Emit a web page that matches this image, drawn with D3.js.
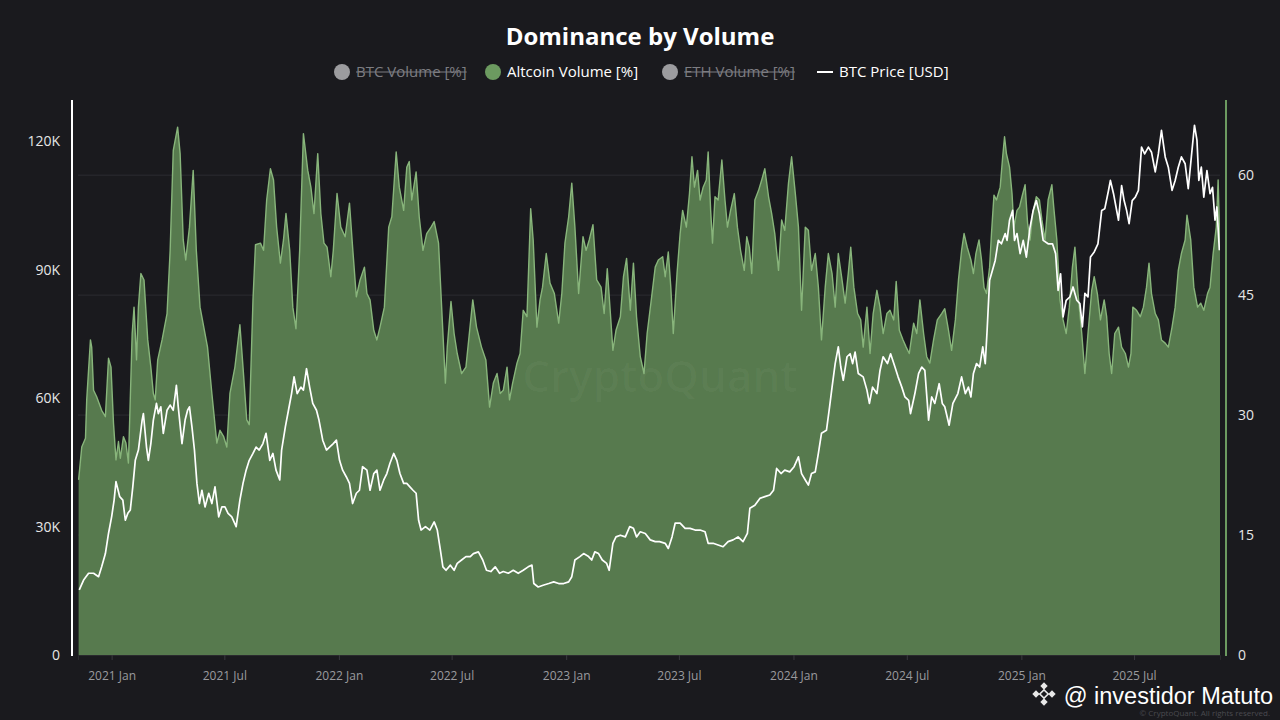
<!DOCTYPE html>
<html>
<head>
<meta charset="utf-8">
<script src="https://cdn.jsdelivr.net/npm/d3@7"></script>
<style>
  html, body { margin: 0; padding: 0; background: #1a1a1e; }
  svg { display: block; font-family: "Open Sans", "Noto Sans", sans-serif; }
</style>
</head>
<body>
<svg id="chart" width="1280" height="720"></svg>
<script>
// Altcoin volume dominance [%]
const altDates = [
  "2020-11-09","2020-11-14","2020-11-20","2020-11-22","2020-11-28","2020-11-30","2020-12-03","2020-12-08","2020-12-16","2020-12-22","2020-12-27","2020-12-31",
  "2021-01-04","2021-01-08","2021-01-12","2021-01-15","2021-01-20","2021-01-24","2021-01-28","2021-02-03","2021-02-06","2021-02-10","2021-02-13","2021-02-17",
  "2021-02-22","2021-02-28","2021-03-05","2021-03-09","2021-03-12","2021-03-16","2021-03-23","2021-03-31","2021-04-05","2021-04-10","2021-04-17","2021-04-21",
  "2021-04-26","2021-04-30","2021-05-06","2021-05-12","2021-05-17","2021-05-23","2021-05-29","2021-06-04","2021-06-11","2021-06-19","2021-06-24","2021-06-30",
  "2021-07-05","2021-07-10","2021-07-18","2021-07-26","2021-07-31","2021-08-06","2021-08-10","2021-08-16","2021-08-20","2021-08-28","2021-09-02","2021-09-07",
  "2021-09-13","2021-09-18","2021-09-23","2021-09-29","2021-10-04","2021-10-08","2021-10-14","2021-10-19","2021-10-24","2021-10-30","2021-11-05","2021-11-12",
  "2021-11-17","2021-11-22","2021-11-28","2021-12-03","2021-12-08","2021-12-13","2021-12-19","2021-12-23","2021-12-29","2022-01-04","2022-01-11","2022-01-18",
  "2022-01-23","2022-01-29","2022-02-04","2022-02-11","2022-02-15","2022-02-20","2022-02-26","2022-03-03","2022-03-08","2022-03-15","2022-03-22","2022-03-27",
  "2022-04-03","2022-04-08","2022-04-15","2022-04-20","2022-04-24","2022-04-28","2022-05-05","2022-05-10","2022-05-16","2022-05-22","2022-05-29","2022-06-03",
  "2022-06-10","2022-06-15","2022-06-21","2022-06-24","2022-06-30","2022-07-05","2022-07-10","2022-07-17","2022-07-24","2022-08-04","2022-08-10","2022-08-18",
  "2022-08-25","2022-08-31","2022-09-06","2022-09-12","2022-09-17","2022-09-22","2022-09-28","2022-10-02","2022-10-07","2022-10-14","2022-10-19","2022-10-24",
  "2022-10-30","2022-11-05","2022-11-09","2022-11-15","2022-11-20","2022-11-24","2022-11-30","2022-12-06","2022-12-13","2022-12-20","2022-12-25","2022-12-30",
  "2023-01-05","2023-01-10","2023-01-15","2023-01-21","2023-01-28","2023-02-02","2023-02-07","2023-02-13","2023-02-19","2023-02-26","2023-03-03","2023-03-08",
  "2023-03-13","2023-03-17","2023-03-22","2023-03-29","2023-04-03","2023-04-08","2023-04-14","2023-04-19","2023-04-24","2023-04-30","2023-05-06","2023-05-11",
  "2023-05-17","2023-05-24","2023-05-29","2023-06-05","2023-06-09","2023-06-14","2023-06-18","2023-06-22","2023-06-28","2023-07-03","2023-07-07","2023-07-13",
  "2023-07-18","2023-07-22","2023-07-26","2023-07-31","2023-08-04","2023-08-09","2023-08-14","2023-08-17","2023-08-21","2023-08-24","2023-08-28","2023-09-02",
  "2023-09-08","2023-09-13","2023-09-17","2023-09-22","2023-09-28","2023-10-03","2023-10-08","2023-10-14","2023-10-18","2023-10-22","2023-10-26","2023-10-31",
  "2023-11-06","2023-11-11","2023-11-16","2023-11-22","2023-11-27","2023-12-02","2023-12-08","2023-12-13","2023-12-18","2023-12-24","2023-12-29","2024-01-04",
  "2024-01-09","2024-01-14","2024-01-20","2024-01-25","2024-01-30","2024-02-05","2024-02-10","2024-02-15","2024-02-21","2024-02-26","2024-03-03","2024-03-08",
  "2024-03-13","2024-03-19","2024-03-24","2024-03-29","2024-04-02","2024-04-07","2024-04-13","2024-04-18","2024-04-22","2024-04-28","2024-05-03","2024-05-08",
  "2024-05-14","2024-05-19","2024-05-24","2024-05-30","2024-06-04","2024-06-10","2024-06-14","2024-06-19","2024-06-25","2024-06-30","2024-07-05","2024-07-12",
  "2024-07-17","2024-07-22","2024-07-28","2024-08-02","2024-08-07","2024-08-13","2024-08-19","2024-08-26","2024-08-31","2024-09-06","2024-09-11","2024-09-17",
  "2024-09-22","2024-09-27","2024-10-01","2024-10-06","2024-10-12","2024-10-16","2024-10-20","2024-10-25","2024-10-29","2024-11-02","2024-11-06","2024-11-11",
  "2024-11-14","2024-11-18","2024-11-22","2024-11-28","2024-12-02","2024-12-05","2024-12-08","2024-12-13","2024-12-17","2024-12-20","2024-12-25","2024-12-29",
  "2025-01-02","2025-01-07","2025-01-11","2025-01-15","2025-01-19","2025-01-25","2025-01-30","2025-02-03","2025-02-08","2025-02-13","2025-02-19","2025-02-22",
  "2025-02-27","2025-03-04","2025-03-09","2025-03-14","2025-03-19","2025-03-24","2025-03-28","2025-04-02","2025-04-08","2025-04-13","2025-04-18","2025-04-24",
  "2025-04-28","2025-05-03","2025-05-08","2025-05-14","2025-05-18","2025-05-22","2025-05-26","2025-05-31","2025-06-06","2025-06-11","2025-06-17","2025-06-22",
  "2025-06-26","2025-06-29","2025-07-05","2025-07-11","2025-07-16","2025-07-21","2025-07-25","2025-07-29","2025-08-04","2025-08-09","2025-08-14","2025-08-20",
  "2025-08-25","2025-08-31","2025-09-05","2025-09-10","2025-09-15","2025-09-21","2025-09-24","2025-09-30","2025-10-05","2025-10-11","2025-10-16","2025-10-21",
  "2025-10-27","2025-10-31","2025-11-05","2025-11-10","2025-11-13","2025-11-16"
];
const altValues = [
  21.9,26.0,27.1,31.9,39.4,38.5,33.1,32.3,30.6,29.8,37.1,36.0,
  29.0,24.4,26.7,24.6,27.3,26.5,24.0,40.2,43.5,36.9,43.5,47.7,
  46.9,39.4,36.0,32.7,31.9,36.9,39.4,42.7,50.6,63.1,66.0,62.7,
  51.9,49.4,53.5,60.6,50.6,43.5,41.0,38.5,32.7,26.5,28.1,27.3,
  26.0,32.7,36.0,41.3,36.0,29.4,28.8,44.4,51.3,51.5,50.6,56.9,
  60.8,59.4,53.5,49.0,51.9,55.2,50.6,43.5,40.8,50.6,65.2,60.6,
  58.5,55.2,62.7,55.2,51.5,51.0,47.3,50.6,57.7,53.5,52.3,56.5,
  51.0,44.8,46.9,48.5,45.2,44.4,40.6,39.4,41.0,43.5,53.5,54.8,
  62.9,58.5,55.6,61.0,61.7,56.9,60.4,54.8,50.6,52.7,53.5,54.2,
  51.5,43.5,34.0,38.5,44.2,40.2,37.7,35.2,36.0,44.4,41.0,38.5,
  36.9,31.0,34.0,35.2,32.7,33.1,36.0,31.9,34.0,36.5,37.7,43.1,
  42.3,55.8,51.9,41.0,44.4,46.0,50.2,46.5,45.2,41.5,45.2,51.5,
  54.8,59.0,53.5,45.2,52.3,50.6,51.9,53.8,46.9,46.0,42.7,48.3,
  42.7,38.1,40.6,42.3,47.3,49.6,43.1,49.0,42.3,37.3,35.2,40.2,
  44.0,48.5,49.4,49.8,47.3,50.4,46.0,40.2,47.7,52.7,55.6,53.5,
  57.7,62.3,58.5,60.6,56.9,58.5,59.4,62.9,55.6,51.5,57.3,56.9,
  61.9,56.9,53.5,55.6,57.7,53.5,50.6,48.1,52.3,51.0,47.7,56.9,
  58.1,59.4,60.8,57.3,55.2,52.7,48.1,54.4,53.1,59.0,62.3,57.7,
  53.5,43.1,53.5,53.1,48.1,50.2,46.0,39.4,46.0,50.2,47.7,43.5,
  50.2,46.9,44.0,47.7,51.0,46.0,42.7,41.9,38.5,43.5,37.7,42.7,
  45.6,43.5,40.2,42.7,43.1,41.9,46.7,40.6,39.4,38.5,37.7,41.5,
  40.2,44.4,40.2,37.3,36.5,39.4,41.9,42.7,43.3,40.6,38.1,41.9,
  46.9,50.6,52.7,51.0,49.4,47.7,50.2,51.9,49.4,46.0,45.2,48.5,
  52.7,57.5,56.9,58.5,62.3,64.8,62.7,61.0,57.7,53.5,55.6,56.0,
  57.3,58.8,54.0,51.9,55.2,57.3,56.9,54.4,51.9,56.9,58.8,56.0,
  51.9,44.4,41.9,40.2,43.5,48.5,51.0,45.2,40.2,35.2,40.2,45.6,
  47.3,45.2,41.9,44.4,42.3,37.7,35.2,40.2,41.0,38.5,37.7,36.0,
  37.7,43.5,43.1,42.3,43.5,46.0,49.0,45.2,42.7,41.9,39.4,39.0,
  38.5,41.0,43.5,48.1,50.2,51.9,55.0,51.9,46.0,43.5,44.0,43.1,
  45.2,46.0,50.2,53.5,59.4,50.6
];

// BTC price [USD]
const priceDates = [
  "2020-11-10","2020-11-17","2020-11-25","2020-12-03","2020-12-11","2020-12-16","2020-12-22","2020-12-27","2021-01-01","2021-01-05","2021-01-08","2021-01-14",
  "2021-01-19","2021-01-23","2021-01-27","2021-01-31","2021-02-04","2021-02-08","2021-02-13","2021-02-19","2021-02-21","2021-02-26","2021-03-01","2021-03-05",
  "2021-03-09","2021-03-14","2021-03-17","2021-03-21","2021-03-25","2021-03-31","2021-04-05","2021-04-10","2021-04-15","2021-04-18","2021-04-24","2021-04-29",
  "2021-05-03","2021-05-06","2021-05-10","2021-05-14","2021-05-18","2021-05-22","2021-05-26","2021-05-31","2021-06-06","2021-06-11","2021-06-16","2021-06-22",
  "2021-06-27","2021-07-02","2021-07-07","2021-07-13","2021-07-20","2021-07-26","2021-07-31","2021-08-05","2021-08-10","2021-08-16","2021-08-21","2021-08-26",
  "2021-09-01","2021-09-06","2021-09-12","2021-09-17","2021-09-22","2021-09-28","2021-10-01","2021-10-07","2021-10-12","2021-10-17","2021-10-21","2021-10-26",
  "2021-11-01","2021-11-05","2021-11-10","2021-11-15","2021-11-20","2021-11-26","2021-11-30","2021-12-06","2021-12-12","2021-12-17","2021-12-23","2021-12-28",
  "2022-01-02","2022-01-07","2022-01-13","2022-01-18","2022-01-23","2022-01-29","2022-02-03","2022-02-08","2022-02-15","2022-02-20","2022-02-26","2022-03-03",
  "2022-03-08","2022-03-14","2022-03-19","2022-03-24","2022-03-30","2022-04-04","2022-04-09","2022-04-15","2022-04-20","2022-04-25","2022-04-30","2022-05-05",
  "2022-05-09","2022-05-13","2022-05-20","2022-05-27","2022-06-03","2022-06-08","2022-06-13","2022-06-17","2022-06-22","2022-06-29","2022-07-05","2022-07-10",
  "2022-07-17","2022-07-24","2022-07-31","2022-08-05","2022-08-13","2022-08-20","2022-08-26","2022-09-02","2022-09-09","2022-09-16","2022-09-22","2022-09-30",
  "2022-10-08","2022-10-16","2022-10-24","2022-11-01","2022-11-07","2022-11-10","2022-11-17","2022-11-25","2022-12-04","2022-12-12","2022-12-20","2022-12-28",
  "2023-01-05","2023-01-10","2023-01-15","2023-01-23","2023-01-29","2023-02-06","2023-02-11","2023-02-16","2023-02-22","2023-02-28","2023-03-07","2023-03-11",
  "2023-03-17","2023-03-22","2023-03-29","2023-04-06","2023-04-13","2023-04-19","2023-04-24","2023-04-30","2023-05-08","2023-05-16","2023-05-24","2023-05-31",
  "2023-06-09","2023-06-14","2023-06-20","2023-06-25","2023-07-03","2023-07-11","2023-07-19","2023-07-27","2023-08-04","2023-08-12","2023-08-17","2023-08-25",
  "2023-09-02","2023-09-10","2023-09-18","2023-09-26","2023-10-04","2023-10-12","2023-10-19","2023-10-23","2023-10-31","2023-11-08","2023-11-16","2023-11-24",
  "2023-11-30","2023-12-05","2023-12-12","2023-12-18","2023-12-26","2024-01-02","2024-01-09","2024-01-14","2024-01-20","2024-01-25","2024-01-30","2024-02-05",
  "2024-02-10","2024-02-15","2024-02-23","2024-02-28","2024-03-03","2024-03-08","2024-03-13","2024-03-17","2024-03-21","2024-03-27","2024-04-01","2024-04-05",
  "2024-04-09","2024-04-14","2024-04-22","2024-04-28","2024-05-02","2024-05-07","2024-05-14","2024-05-19","2024-05-24","2024-05-31","2024-06-05","2024-06-12",
  "2024-06-17","2024-06-23","2024-06-28","2024-07-04","2024-07-07","2024-07-14","2024-07-20","2024-07-25","2024-07-30","2024-08-05","2024-08-10","2024-08-15",
  "2024-08-22","2024-08-27","2024-08-31","2024-09-07","2024-09-13","2024-09-21","2024-09-27","2024-10-03","2024-10-08","2024-10-12","2024-10-16","2024-10-21",
  "2024-10-26","2024-10-31","2024-11-04","2024-11-07","2024-11-11","2024-11-14","2024-11-20","2024-11-25","2024-11-30","2024-12-06","2024-12-09","2024-12-13",
  "2024-12-18","2024-12-21","2024-12-25","2024-12-30","2025-01-04","2025-01-09","2025-01-15","2025-01-20","2025-01-25","2025-01-30","2025-02-05","2025-02-13",
  "2025-02-20","2025-02-25","2025-03-01","2025-03-05","2025-03-09","2025-03-14","2025-03-20","2025-03-25","2025-03-31","2025-04-05","2025-04-09","2025-04-13",
  "2025-04-18","2025-04-22","2025-04-28","2025-05-04","2025-05-10","2025-05-15","2025-05-21","2025-05-24","2025-05-29","2025-06-02","2025-06-06","2025-06-11",
  "2025-06-15","2025-06-19","2025-06-23","2025-06-28","2025-07-03","2025-07-08","2025-07-13","2025-07-18","2025-07-24","2025-07-29","2025-08-04","2025-08-09",
  "2025-08-14","2025-08-20","2025-08-25","2025-08-31","2025-09-05","2025-09-10","2025-09-15","2025-09-21","2025-09-26","2025-10-01","2025-10-06","2025-10-10",
  "2025-10-13","2025-10-17","2025-10-21","2025-10-26","2025-10-31","2025-11-04","2025-11-08","2025-11-11","2025-11-15"
];
const priceValues = [
  15200,17500,19100,19100,18300,20600,23700,28400,32300,36200,40500,37000,
  36200,31500,33100,33900,39300,45500,47900,54900,56400,48600,45500,49400,
  54900,58800,56400,58000,51800,57200,58400,57200,63000,58000,49400,54900,
  57200,58000,53300,47900,40100,35400,38500,34600,37800,35400,39300,32300,
  34600,34600,33100,32300,30000,36200,40100,43200,45500,47100,48600,47900,
  49400,51800,45500,47100,43200,40900,47900,53300,57200,61100,65000,61100,
  62600,61900,66900,62600,58800,57200,54900,50200,47900,48600,49400,50200,
  45500,43200,41600,40100,35400,37800,38500,44000,43200,38500,42400,43200,
  38500,40900,42400,44800,47100,45500,42400,40100,40100,39300,38500,37800,
  31500,29200,30000,29200,31100,29200,24500,20600,19800,21000,19800,21400,
  22200,23000,23000,23700,24100,22200,19800,19500,20600,19100,19500,19100,
  19800,19100,19800,20600,21000,16700,15900,16300,16700,17100,16700,16700,
  17100,18300,22200,23000,23700,23000,22200,24100,23700,22200,21400,19800,
  26100,27600,28000,27600,30000,29600,27600,28800,28400,26900,26500,26500,
  26100,24900,27600,30800,30800,29600,29600,29200,29200,28800,26100,26100,
  25700,25300,26500,26900,27600,26500,28400,34300,35000,36600,37000,37400,
  38500,43600,42400,43200,42800,44000,46300,42400,40900,39700,42400,42800,
  47100,51800,52500,58000,62600,68100,72000,67300,64200,69700,70400,68100,
  70800,65800,65000,61900,58800,62600,61100,66500,69700,68100,70400,67300,
  65000,62600,60300,59500,56400,61100,65800,67300,66500,54900,60300,58800,
  63400,58800,58000,53700,58800,61100,65000,61100,62600,60300,65800,68100,
  67300,72000,68100,75900,87600,89100,92200,96900,96100,98500,96900,101600,
  103900,96900,98500,93800,96900,93000,100000,103900,106200,103100,96900,96100,
  96100,93800,85200,89100,79000,82900,83700,86000,82900,82100,76700,84500,
  83700,93000,94200,96100,103900,104300,108600,110900,107800,104700,101600,109700,
  106200,103900,100800,106200,107000,108600,118700,117100,118700,117500,112900,117100,
  122600,116400,114000,108600,110900,114000,116400,114800,109000,116400,123800,120300,
  110900,114000,107000,113200,107800,109300,101600,104700,94600
];

const priceTicks = [0, 30000, 60000, 90000, 120000];
const altTicks = [0, 15, 30, 45, 60];
const legendLabels = ["BTC Volume [%]", "Altcoin Volume [%]", "ETH Volume [%]", "BTC Price [USD]"];
const legendHidden = [true, false, true, false];

const parse = d3.timeParse("%Y-%m-%d");
const alt = altDates.map((d, i) => ({ date: parse(d), v: altValues[i] }));
const price = priceDates.map((d, i) => ({ date: parse(d), v: priceValues[i] }));

const svg = d3.select("#chart");
const plot = { left: 78, right: 1220, top: 100, bottom: 655 };

const x = d3.scaleTime()
  .domain([parse("2020-11-08"), parse("2025-11-16")])
  .range([plot.left, plot.right]);
const yAlt = d3.scaleLinear().domain([0, 69.4]).range([plot.bottom, plot.top]);
const yPrice = d3.scaleLinear().domain([0, 129700]).range([plot.bottom, plot.top]);

// background
svg.append("rect").attr("width", 1280).attr("height", 720).attr("fill", "#1a1a1e");

// title
svg.append("text")
  .attr("x", 640).attr("y", 45)
  .attr("text-anchor", "middle")
  .attr("fill", "#ffffff")
  .attr("font-size", 24)
  .attr("font-weight", 700)
  .text("Dominance by Volume");

// legend
const legendX = [334, 485, 662, 817];
const legend = svg.append("g").attr("transform", "translate(0,72)");
legendLabels.forEach((label, i) => {
  const g = legend.append("g").attr("transform", `translate(${legendX[i]},0)`);
  if (i === 3) {
    g.append("line").attr("x1", 0).attr("x2", 16).attr("y1", 0).attr("y2", 0)
      .attr("stroke", "#ffffff").attr("stroke-width", 2);
  } else {
    g.append("circle").attr("cx", 8).attr("cy", 0).attr("r", 8)
      .attr("fill", legendHidden[i] ? "#9c9c9f" : "#6c9a60");
  }
  const tx = 22;
  const t = g.append("text")
    .attr("x", tx).attr("y", 5)
    .attr("font-size", 15)
    .attr("fill", legendHidden[i] ? "#7d7d82" : "#ffffff")
    .text(label);
  if (legendHidden[i]) {
    const w = t.node().getComputedTextLength();
    g.append("line").attr("x1", tx).attr("x2", tx + w).attr("y1", 0).attr("y2", 0)
      .attr("stroke", "#7d7d82").attr("stroke-width", 1.2);
  }
});

// grid lines at the right-axis ticks
svg.append("g")
  .selectAll("line")
  .data(altTicks.filter(d => d > 0))
  .join("line")
  .attr("x1", plot.left).attr("x2", plot.right)
  .attr("y1", d => yAlt(d)).attr("y2", d => yAlt(d))
  .attr("stroke", "#2c2c31").attr("stroke-width", 1);

// clip to plot
svg.append("clipPath").attr("id", "clip")
  .append("rect")
  .attr("x", plot.left).attr("y", plot.top - 10)
  .attr("width", plot.right - plot.left).attr("height", plot.bottom - plot.top + 10);

const body = svg.append("g").attr("clip-path", "url(#clip)");

// altcoin volume area
body.append("path")
  .datum(alt)
  .attr("fill", "#577a4e")
  .attr("d", d3.area().x(d => x(d.date)).y0(plot.bottom).y1(d => yAlt(d.v)));

body.append("path")
  .datum(alt)
  .attr("fill", "none")
  .attr("stroke", "#88b57b")
  .attr("stroke-width", 1.4)
  .attr("stroke-linejoin", "round")
  .attr("d", d3.line().x(d => x(d.date)).y(d => yAlt(d.v)));

// faint watermark
body.append("text")
  .attr("x", 660).attr("y", 392)
  .attr("text-anchor", "middle")
  .attr("font-size", 44)
  .attr("font-weight", 600)
  .attr("fill", "rgba(255,255,255,0.03)")
  .text("CryptoQuant");

// BTC price line
body.append("path")
  .datum(price)
  .attr("fill", "none")
  .attr("stroke", "#ffffff")
  .attr("stroke-width", 1.7)
  .attr("stroke-linejoin", "round")
  .attr("d", d3.line().x(d => x(d.date)).y(d => yPrice(d.v)));

// x axis
const xAxis = svg.append("g")
  .attr("transform", `translate(0,${plot.bottom})`)
  .call(d3.axisBottom(x)
    .tickValues(d3.timeMonth.every(6).range(parse("2021-01-01"), parse("2025-08-01")))
    .tickFormat(d3.timeFormat("%Y %b"))
    .tickSize(5)
    .tickPadding(11));
xAxis.select(".domain").attr("stroke", "#2a2a2e");
xAxis.selectAll(".tick line").attr("stroke", "#3a3a3f");
xAxis.selectAll("text").attr("fill", "#9a9a9e").attr("font-size", 12)
  .attr("font-family", "'Open Sans', sans-serif");

// left axis (BTC price)
const leftAxis = svg.append("g")
  .attr("transform", "translate(72,0)")
  .call(d3.axisLeft(yPrice)
    .tickValues(priceTicks)
    .tickFormat(d => d === 0 ? "0" : d / 1000 + "K")
    .tickSize(0)
    .tickPadding(12));
leftAxis.select(".domain").remove();
leftAxis.selectAll("text").attr("fill", "#e6e6e6").attr("font-size", 14)
  .attr("font-family", "'Open Sans', sans-serif");
svg.append("line")
  .attr("x1", 72).attr("x2", 72).attr("y1", plot.top).attr("y2", plot.bottom + 1)
  .attr("stroke", "#ffffff").attr("stroke-width", 2);

// right axis (altcoin %)
const rightAxis = svg.append("g")
  .attr("transform", "translate(1226,0)")
  .call(d3.axisRight(yAlt)
    .tickValues(altTicks)
    .tickSize(0)
    .tickPadding(12));
rightAxis.select(".domain").remove();
rightAxis.selectAll("text").attr("fill", "#e6e6e6").attr("font-size", 14)
  .attr("font-family", "'Open Sans', sans-serif");
svg.append("line")
  .attr("x1", 1226).attr("x2", 1226).attr("y1", plot.top).attr("y2", plot.bottom + 1)
  .attr("stroke", "#6c9a60").attr("stroke-width", 2);

// bottom-right overlay
svg.append("text")
  .attr("x", 1270).attr("y", 716)
  .attr("text-anchor", "end")
  .attr("font-size", 8)
  .attr("fill", "#4a4a50")
  .text("© CryptoQuant. All rights reserved.");

const logo = svg.append("g").attr("transform", "translate(1044,694)").attr("fill", "#e8e8e8");
[[0, -8], [-8, 0], [8, 0], [0, 8]].forEach(([dx, dy]) => {
  logo.append("rect").attr("x", -2.6).attr("y", -2.6).attr("width", 5.2).attr("height", 5.2)
    .attr("transform", `translate(${dx},${dy}) rotate(45)`);
});
logo.append("rect").attr("x", -3).attr("y", -3).attr("width", 6).attr("height", 6)
  .attr("fill", "none").attr("stroke", "#e8e8e8").attr("stroke-width", 1.6)
  .attr("transform", "rotate(45)");

svg.append("text")
  .attr("x", 1273).attr("y", 704)
  .attr("text-anchor", "end")
  .attr("font-size", 23.5)
  .attr("font-family", "'Liberation Sans', Arial, sans-serif")
  .attr("fill", "#ffffff")
  .text("@ investidor Matuto");
</script>
</body>
</html>
